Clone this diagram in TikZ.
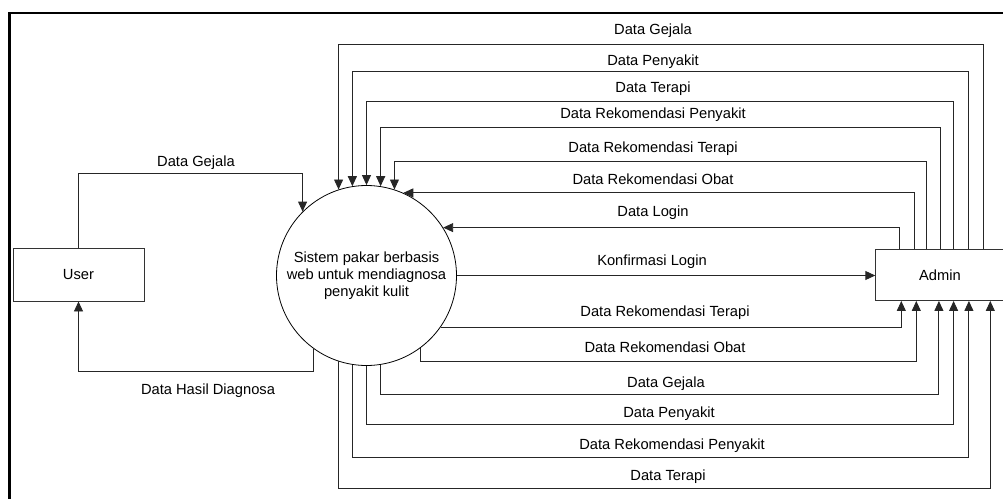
\documentclass[tikz,border=0pt]{standalone}
\usepackage{fontspec}
\setmainfont{Liberation Sans}
\usetikzlibrary{arrows.meta}
\begin{document}
\begin{tikzpicture}[x=1pt,y=-1pt,
  every node/.style={font=\fontsize{14.7}{17}\selectfont},
  flow/.style={draw=black!85, line width=0.9pt, -{Triangle[length=10pt,width=9pt]}},
  box/.style={draw=black!80, line width=0.9pt, inner sep=0pt},
  lbl/.style={anchor=base, inner sep=0pt},
]
\useasboundingbox (0,0) rectangle (1003,498);
\clip (0,0) rectangle (1003,498);
\draw[line width=2.6pt] (9.7,13) rectangle (1020,520);
\node[box, minimum width=131pt, minimum height=52.5pt] (user) at (78.5,274.75) {User};
\node[box, minimum width=128.5pt, minimum height=51pt] (admin) at (940,275) {Admin};
\node[circle, draw, line width=0.8pt, minimum size=180pt, inner sep=0pt, align=center] (sys) at (366.5,275.5) {Sistem pakar berbasis\\web untuk mendiagnosa\\penyakit kulit};
% admin top columns
\coordinate (t1) at ([xshift=24.3]admin.north west);
\coordinate (t2) at ([xshift=39.3]admin.north west);
\coordinate (t3) at ([xshift=51.6]admin.north west);
\coordinate (t4) at ([xshift=65.6]admin.north west);
\coordinate (t5) at ([xshift=78.3]admin.north west);
\coordinate (t6) at ([xshift=93.6]admin.north west);
\coordinate (t7) at ([xshift=108.3]admin.north west);
% admin bottom columns
\coordinate (b1) at ([xshift=26]admin.south west);
\coordinate (b2) at ([xshift=41]admin.south west);
\coordinate (b3) at ([xshift=63.6]admin.south west);
\coordinate (b4) at ([xshift=78.3]admin.south west);
\coordinate (b5) at ([xshift=93.6]admin.south west);
\coordinate (b6) at ([xshift=115]admin.south west);
% levels
\coordinate (lt7) at (0,44.3);
\coordinate (lt6) at (0,71.7);
\coordinate (lt5) at (0,101.7);
\coordinate (lt4) at (0,127.7);
\coordinate (lt3) at (0,161.7);
\coordinate (lb2) at (0,361.7);
\coordinate (lb3) at (0,394.3);
\coordinate (lb4) at (0,424.3);
\coordinate (lb5) at (0,457.3);
\coordinate (lb6) at (0,488.3);
\coordinate (lug) at (0,173.7);
\coordinate (lhd) at (0,371.7);
% admin -> system (top)
\draw[flow] (t7) -- (t7 |- lt7) -| (sys.108);
\draw[flow] (t6) -- (t6 |- lt6) -| (sys.99);
\draw[flow] (t5) -- (t5 |- lt5) -| (sys.north);
\draw[flow] (t4) -- (t4 |- lt4) -| (sys.81);
\draw[flow] (t3) -- (t3 |- lt3) -| (sys.72);
\draw[flow] (t2) |- (sys.66);
\draw[flow] (t1) |- (sys.32);
% system -> admin
\draw[flow] (sys.east) -- (sys.east -| admin.west);
\draw[flow] (sys.-35) -| (b1);
\draw[flow] (sys.-53) -- (sys.-53 |- lb2) -| (b2);
\draw[flow] (sys.-81) -- (sys.-81 |- lb3) -| (b3);
\draw[flow] (sys.south) -- (sys.south |- lb4) -| (b4);
\draw[flow] (sys.-99) -- (sys.-99 |- lb5) -| (b5);
\draw[flow] (sys.-108) -- (sys.-108 |- lb6) -| (b6);
% user flows
\draw[flow] (user.north) -- (user.north |- lug) -| (sys.135);
\draw[flow] (sys.234) -- (sys.234 |- lhd) -| (user.south);
% labels
\node[lbl] (n1) at (653,34) {Data Gejala};
\node[lbl] (n2) at (653,65) {Data Penyakit};
\node[lbl] (n3) at (653,92) {Data Terapi};
\node[lbl] (n4) at (653,118) {Data Rekomendasi Penyakit};
\node[lbl] (n5) at (653,152) {Data Rekomendasi Terapi};
\node[lbl] (n6) at (653,184) {Data Rekomendasi Obat};
\node[lbl] (n7) at (653,216) {Data Login};
\node[lbl] (n8) at (652,265) {Konfirmasi Login};
\node[lbl] (n9) at (665,316) {Data Rekomendasi Terapi};
\node[lbl] (n10) at (665,352) {Data Rekomendasi Obat};
\node[lbl] (n11) at (666,387) {Data Gejala};
\node[lbl] (n12) at (669,417) {Data Penyakit};
\node[lbl] (n13) at (672,449) {Data Rekomendasi Penyakit};
\node[lbl] (n14) at (668,480) {Data Terapi};
\node[lbl] (n15) at (196,166) {Data Gejala};
\node[lbl] (n16) at (208,394) {Data Hasil Diagnosa};
\end{tikzpicture}
\end{document}
